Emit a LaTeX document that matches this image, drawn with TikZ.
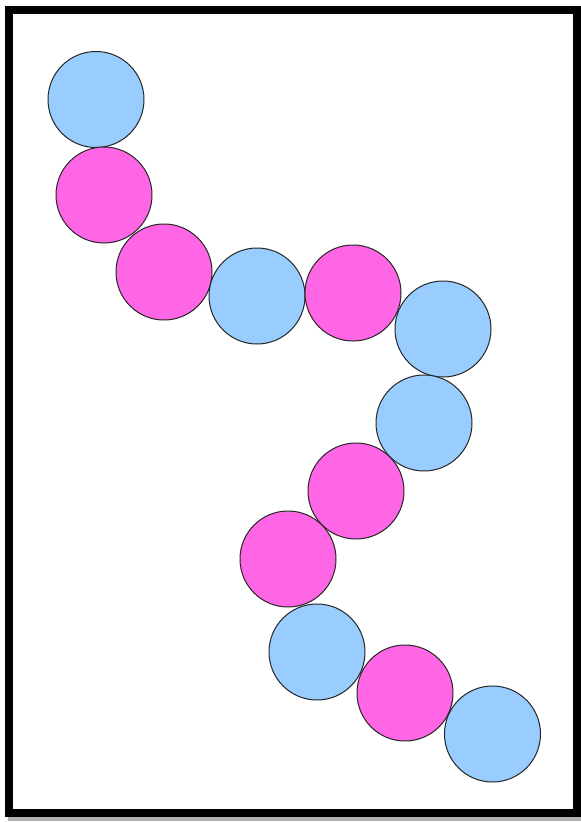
\documentclass[tikz,border=0pt]{standalone}
\definecolor{bluec}{HTML}{99CCFF}
\definecolor{pinkc}{HTML}{FF66E5}
\begin{document}
\begin{tikzpicture}[x=1pt,y=-1pt,
  ball/.style={circle,draw=black!85,line width=1pt,minimum size=96pt,inner sep=0pt},
  bb/.style={ball,fill=bluec},
  pb/.style={ball,fill=pinkc}]
\useasboundingbox (0,0) rectangle (581,822);
\draw[line width=8pt,black!30] (12,13) rectangle (580,817);
\draw[line width=8pt,fill=white] (9,9.5) rectangle (577,813);
\node[bb] (c1) at (96,99.5) {};
\node[pb] (c2) at (104,195) {};
\node[pb] (c3) at (164,272) {};
\node[bb] (c4) at (257,296) {};
\node[pb] (c5) at (353,293) {};
\node[bb] (c6) at (443,329) {};
\node[bb] (c7) at (424,423) {};
\node[pb] (c8) at (356,491) {};
\node[pb] (c9) at (288,559) {};
\node[bb] (c10) at (317,652) {};
\node[pb] (c11) at (405,693) {};
\node[bb] (c12) at (492.5,734) {};
\end{tikzpicture}
\end{document}
